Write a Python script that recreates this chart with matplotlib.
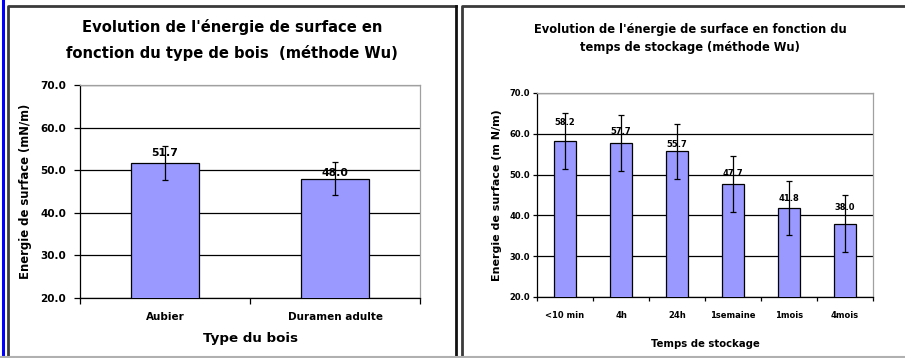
import matplotlib
matplotlib.use("Agg")
import matplotlib.pyplot as plt
from matplotlib.lines import Line2D

plt.rcParams['font.family'] = ['DejaVu Sans']
plt.rcParams['font.weight'] = 'bold'

# left chart: wood type
wood_types = ['Aubier', 'Duramen adulte']
wood_energy = [51.7, 48.0]
wood_err = [4.0, 3.9]

# right chart: storage time
storage_times = ['<10 min', '4h', '24h', '1semaine', '1mois', '4mois']
storage_energy = [58.2, 57.7, 55.7, 47.7, 41.8, 38.0]
storage_err = [6.8, 6.8, 6.8, 6.9, 6.7, 7.0]

W, H = 905, 358
fig = plt.figure(figsize=(W / 100, H / 100), dpi=100)
fig.patch.set_facecolor('white')


def px_axes(x0, y0, x1, y1):
    return fig.add_axes([x0 / W, 1 - y1 / H, (x1 - x0) / W, (y1 - y0) / H])


def fig_line(xs, ys, color, lw):
    fig.add_artist(Line2D([x / W for x in xs], [1 - y / H for y in ys],
                          color=color, lw=lw, transform=fig.transFigure))


def draw_bars(ax, cats, vals, errs, pads, ytick_fs, xtick_fs, lab_fs, xpad, ypad, ticklen):
    n = len(cats)
    x = list(range(n))
    bars = ax.bar(x, vals, width=0.4, color='#9999FF', edgecolor='black',
                  linewidth=0.9, zorder=3)
    ax.errorbar(x, vals, yerr=errs, fmt='none', ecolor='black', elinewidth=0.9,
                capsize=2.5, capthick=0.9, zorder=4)
    for b, v, p in zip(bars, vals, pads):
        ax.annotate(f'{v:.1f}', (b.get_x() + b.get_width() / 2, v),
                    xytext=(0, p), textcoords='offset points', ha='center',
                    va='bottom', fontsize=lab_fs, fontweight='bold', zorder=5)
    ax.set_xlim(-0.5, n - 0.5)
    ax.set_ylim(20, 70)
    ax.set_yticks([20, 30, 40, 50, 60, 70])
    ax.set_yticklabels([f'{t:.1f}' for t in [20, 30, 40, 50, 60, 70]],
                       fontsize=ytick_fs, fontweight='bold')
    ax.yaxis.grid(True, color='black', lw=0.9, zorder=0)
    ax.set_axisbelow(True)
    # ticks sit between categories, labels at bar centres
    ax.set_xticks([i - 0.5 for i in range(n + 1)], minor=False)
    ax.set_xticklabels([])
    ax.set_xticks(x, minor=True)
    ax.set_xticklabels(cats, minor=True, fontsize=xtick_fs, fontweight='bold')
    ax.tick_params(axis='x', which='minor', length=0, pad=xpad)
    ax.tick_params(axis='x', which='major', length=ticklen, width=0.9, direction='out')
    ax.tick_params(axis='y', length=ticklen, width=0.9, direction='out', pad=ypad)
    for s in ['left', 'bottom']:
        ax.spines[s].set_color('black')
        ax.spines[s].set_linewidth(0.9)
    for s in ['top', 'right']:
        ax.spines[s].set_color('#a0a0a0')
        ax.spines[s].set_linewidth(0.9)


# panel frames
fig_line([2.5, 2.5], [0, H], '#0000ff', 2.2)
fig_line([7.5, 7.5, 455.5], [H, 5.5, 5.5], '#3a3a3a', 2)
fig_line([455.5, 455.5], [5.5, H], '#111111', 2)
fig_line([461.5, 461.5, W], [H, 5.5, 5.5], '#3a3a3a', 2)
fig_line([0, W], [357, 357], '#b0b0b0', 1.5)

# left chart
ax1 = px_axes(80, 85, 420, 298)
draw_bars(ax1, wood_types, wood_energy, wood_err, [3.5, 0.5], 7.5, 7.5, 7.8, 10, 6, 4)
ax1.set_xlabel('Type du bois', fontsize=9.6, fontweight='bold', labelpad=7)
ax1.set_ylabel('Energie de surface (mN/m)', fontsize=8.4, fontweight='bold', labelpad=6)
fig.text(232 / W, 1 - 40 / H, "Evolution de l'énergie de surface en\nfonction du type de bois  (méthode Wu)",
         ha='center', va='center', fontsize=10.6, fontweight='bold', linespacing=1.7)

# right chart
ax2 = px_axes(537, 93, 873, 297)
draw_bars(ax2, storage_times, storage_energy, storage_err, [10, 5, 2, 4, 3.5, 8], 6, 6, 6, 10, 2, 3)
ax2.set_xlabel('Temps de stockage', fontsize=7.3, fontweight='bold', labelpad=14)
ax2.set_ylabel('Energie de surface (m N/m)', fontsize=8, fontweight='bold', labelpad=5)
fig.text(690 / W, 1 - 38.5 / H, "Evolution de l'énergie de surface en fonction du\ntemps de stockage (méthode Wu)",
         ha='center', va='center', fontsize=8.3, fontweight='bold', linespacing=1.5)

fig.savefig('out.png', dpi=100)
